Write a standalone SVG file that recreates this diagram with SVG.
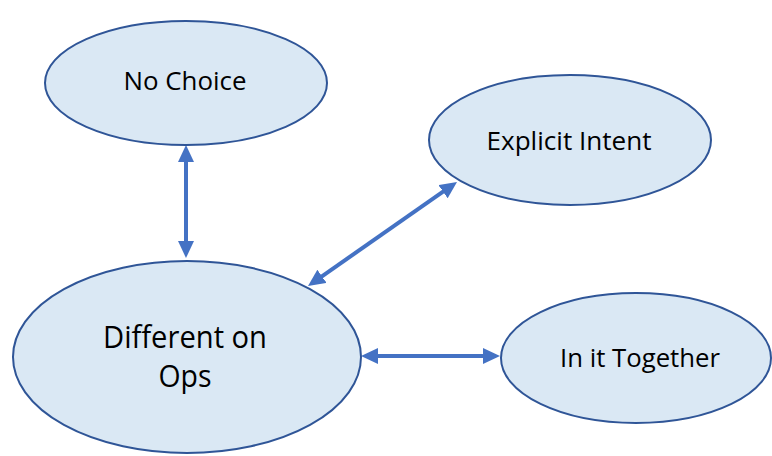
<svg xmlns="http://www.w3.org/2000/svg" width="772" height="456" viewBox="0 0 772 456">
  <style>
    .node ellipse { fill: #DAE8F4; stroke: #2F5597; stroke-width: 2; }
    .node text { font-family: "Open Sans", "Liberation Sans", sans-serif; fill: #000; text-anchor: middle; }
    .small { font-size: 25px; }
    .big { font-size: 31px; }
    .conn { stroke: #4472C4; stroke-width: 4; fill: none; marker-start: url(#ah); marker-end: url(#ah); }
  </style>
  <defs>
    <marker id="ah" markerUnits="userSpaceOnUse" markerWidth="17" markerHeight="16" refX="7" refY="8" orient="auto-start-reverse" viewBox="0 0 17 16">
      <path d="M0,0 L17,8 L0,16 z" fill="#4472C4"/>
    </marker>
  </defs>
  <rect width="772" height="456" fill="#FFFFFF"/>
  <g id="connectors">
    <path class="conn" d="M186,155 L186,248"/>
    <path class="conn" d="M316.2,280.3 L448.8,187.7"/>
    <path class="conn" d="M371,356 L490,356"/>
  </g>
  <g id="no-choice" class="node">
    <ellipse cx="186" cy="83" rx="141" ry="62"/>
    <text class="small" x="185" y="90" textLength="123" lengthAdjust="spacingAndGlyphs">No Choice</text>
  </g>
  <g id="explicit-intent" class="node">
    <ellipse cx="570" cy="140" rx="141" ry="65"/>
    <text class="small" x="569" y="150" textLength="165" lengthAdjust="spacingAndGlyphs">Explicit Intent</text>
  </g>
  <g id="different-on-ops" class="node">
    <ellipse cx="187" cy="357" rx="174" ry="96"/>
    <text class="big" x="185" y="348" textLength="164" lengthAdjust="spacingAndGlyphs">Different on</text>
    <text class="big" x="185" y="387" textLength="53" lengthAdjust="spacingAndGlyphs">Ops</text>
  </g>
  <g id="in-it-together" class="node">
    <ellipse cx="636" cy="358" rx="135" ry="65"/>
    <text class="small" x="640" y="367" textLength="160" lengthAdjust="spacingAndGlyphs">In it Together</text>
  </g>
</svg>
